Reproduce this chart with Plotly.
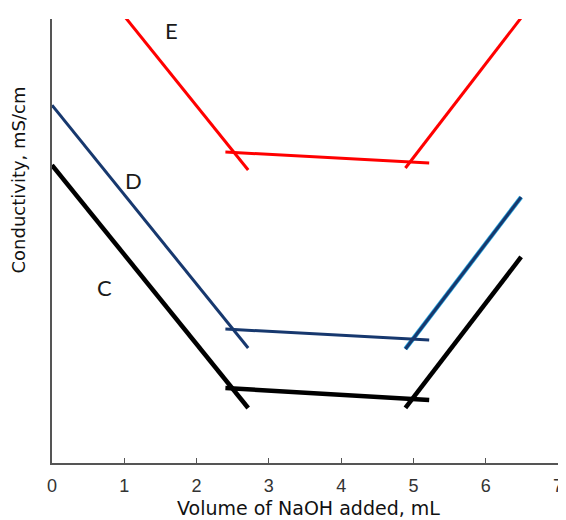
import plotly.graph_objects as go

# Curve E (red): descending branch, plateau, ascending branch (None separates segments)
e_x = [0.80, 2.714, None, 2.399, 5.218, None, 4.889, 6.60]
e_y = [104.7, 66.0, None, 70.05, 67.57, None, 66.44, 102.6]

# Curve D (navy)
d_x = [0.0, 2.714, None, 2.399, 5.218, None, 4.889, 6.49]
d_y = [80.6, 25.9, None, 30.18, 27.7, None, 25.68, 59.9]

# Curve C (black)
c_x = [0.0, 2.714, None, 2.399, 5.218, None, 4.889, 6.49]
c_y = [67.1, 12.39, None, 16.89, 14.19, None, 12.39, 46.4]

x_ticks = [0, 1, 2, 3, 4, 5, 6, 7]
labels = ["E", "D", "C"]
label_x = [1.647, 1.127, 0.730]
label_y = [97.5, 63.7, 39.6]

FONT = "Liberation Sans, Arial"
TITLE_FONT = "DejaVu Sans"

fig = go.Figure()
# light-blue glow under the rising D branch
fig.add_trace(go.Scatter(x=d_x[6:], y=d_y[6:], mode="lines",
                         line=dict(color="#29a8e0", width=4.5), hoverinfo="skip", showlegend=False))
fig.add_trace(go.Scatter(x=e_x, y=e_y, mode="lines", line=dict(color="#ff0000", width=3), showlegend=False))
fig.add_trace(go.Scatter(x=d_x, y=d_y, mode="lines", line=dict(color="#17386e", width=3), showlegend=False))
fig.add_trace(go.Scatter(x=c_x, y=c_y, mode="lines", line=dict(color="#000000", width=4.5), showlegend=False))

for t, lx, ly in zip(labels, label_x, label_y):
    fig.add_annotation(x=lx, y=ly, text=t, showarrow=False,
                       font=dict(family="Lato, Open Sans", size=22, color="#1a1a1a"))

fig.add_annotation(xref="paper", yref="paper", x=-0.0665, y=0.637, text="Conductivity, mS/cm",
                   textangle=-90, showarrow=False, xanchor="center", yanchor="middle",
                   font=dict(family=TITLE_FONT, size=18, color="#111"))
fig.add_annotation(xref="paper", yref="paper", x=0.507, y=-0.101, text="Volume of NaOH added, mL",
                   showarrow=False, xanchor="center", yanchor="middle",
                   font=dict(family=TITLE_FONT, size=19, color="#111"))

fig.update_layout(
    width=558, height=512,
    margin=dict(l=44, r=3, t=11, b=57),
    paper_bgcolor="white", plot_bgcolor="white",
    font=dict(family=FONT, color="#222"),
    xaxis=dict(range=[0, 7], tickvals=x_ticks, showgrid=False, zeroline=False,
               showline=True, linecolor="#555", linewidth=1.5,
               ticks="inside", ticklen=5, tickcolor="#555",
               tickfont=dict(family="Liberation Sans Narrow, Liberation Sans, Arial", size=18, color="#333"),
               ticklabelstandoff=6, ticklabeloverflow="allow"),
    yaxis=dict(range=[0, 100], showgrid=False, zeroline=False, showticklabels=False,
               showline=True, linecolor="#555", linewidth=1.5, ticks=""),
)

fig.write_html("out.html")
